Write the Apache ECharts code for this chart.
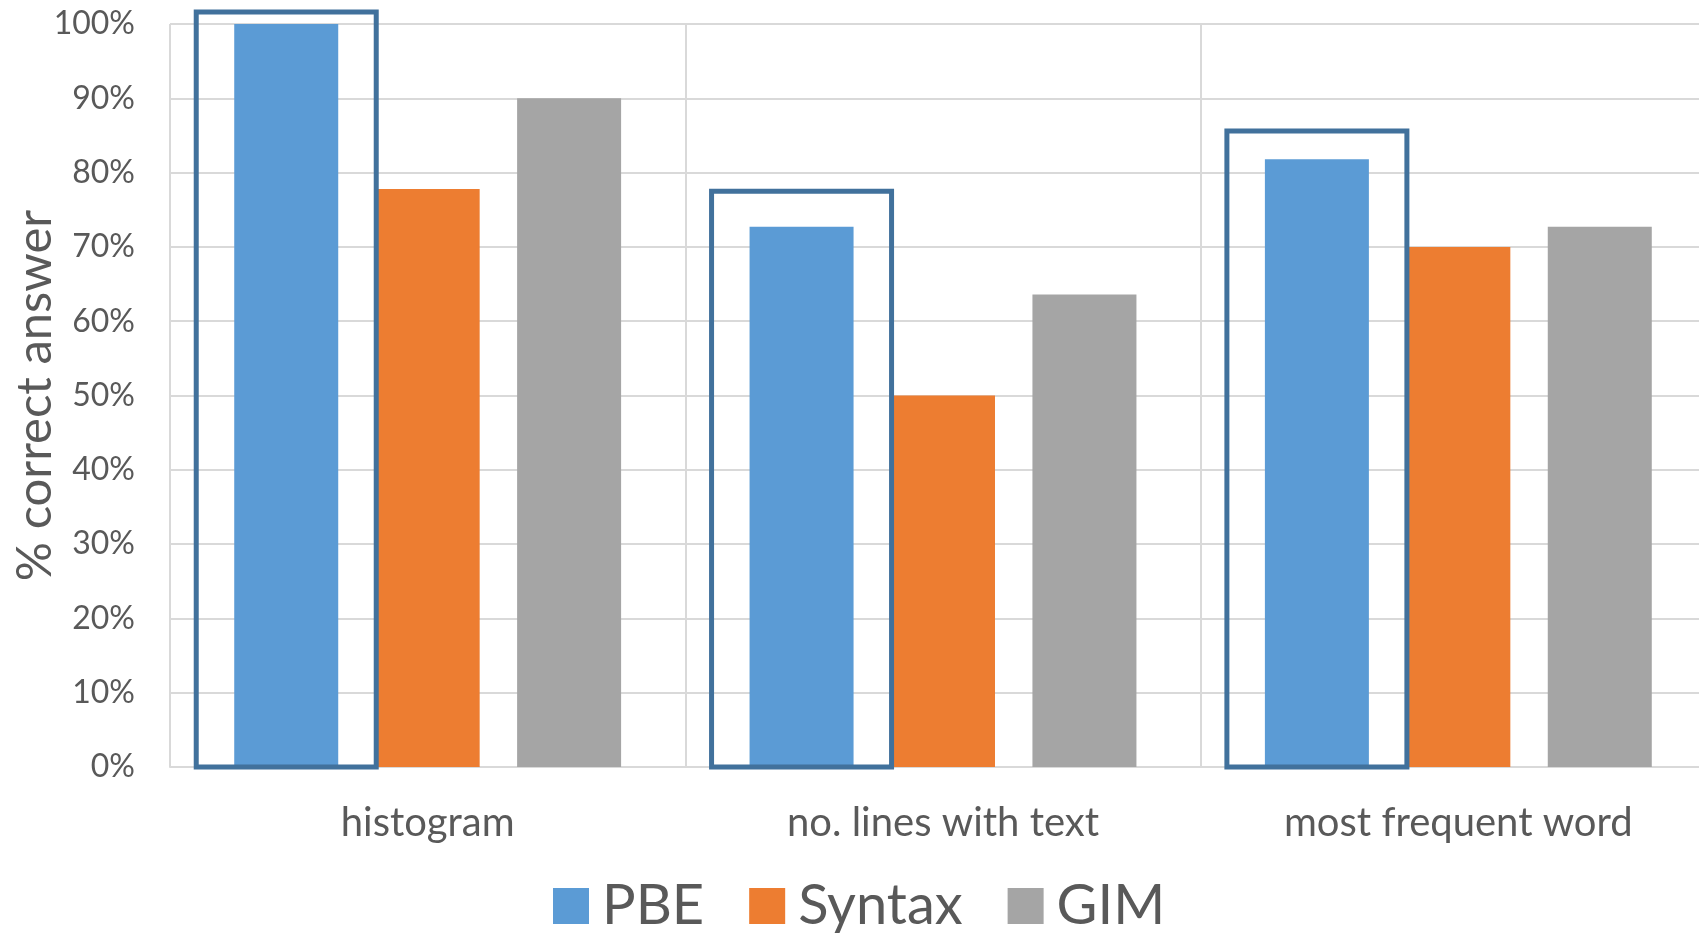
<!DOCTYPE html>
<html>
<head>
<meta charset="utf-8">
<script src="https://cdn.jsdelivr.net/npm/echarts@6/dist/echarts.min.js"></script>
<style>
html,body{margin:0;padding:0;background:#fff;}
#chart{width:1699px;height:933px;}
</style>
</head>
<body>
<div id="chart"></div>
<script>
const categories = ['histogram', 'no. lines with text', 'most frequent word'];
const seriesNames = ['PBE', 'Syntax', 'GIM'];
const pbeValues = [100, 72.7, 81.8];
const syntaxValues = [77.8, 50, 70];
const gimValues = [90, 63.6, 72.7];
const highlightTops = [101.6, 77.5, 85.6];

const FONT = 'Lato';
const TEXT = '#595959';
const GRID = '#D9D9D9';
const BAR_W = 104;
const BAR_GAP = 0.36;

const chart = echarts.init(document.getElementById('chart'));
chart.setOption({
  animation: false,
  backgroundColor: '#ffffff',
  grid: { left: 170, right: -17, top: 24, bottom: 166, containLabel: false, outerBoundsMode: 'none' },
  legend: {
    data: seriesNames,
    left: 548, top: 873,
    itemWidth: 36, itemHeight: 36, itemGap: 45,
    icon: 'rect',
    textStyle: { fontFamily: FONT, fontSize: 56, color: TEXT, padding: [0, 0, 0, 8] }
  },
  xAxis: {
    type: 'category',
    data: categories,
    axisLine: { show: true, lineStyle: { color: GRID, width: 2 } },
    axisTick: { show: false },
    splitLine: { show: true, lineStyle: { color: GRID, width: 2 } },
    axisLabel: { fontFamily: FONT, fontSize: 40, color: TEXT, margin: 36 }
  },
  yAxis: {
    type: 'value',
    min: 0, max: 100, interval: 10,
    name: '% correct answer',
    nameLocation: 'middle',
    nameGap: 110,
    nameMoveOverlap: false,
    nameTextStyle: { fontFamily: FONT, fontSize: 49, color: TEXT },
    axisLine: { show: false },
    axisTick: { show: false },
    splitLine: { lineStyle: { color: GRID, width: 2 } },
    axisLabel: { fontFamily: FONT, fontSize: 32, color: TEXT, margin: 35, formatter: '{value}%' }
  },
  series: [
    { name: 'PBE', type: 'bar', data: pbeValues, barWidth: BAR_W, barGap: (BAR_GAP * 100) + '%', itemStyle: { color: '#5B9BD5' } },
    { name: 'Syntax', type: 'bar', data: syntaxValues, barWidth: BAR_W, barGap: (BAR_GAP * 100) + '%', itemStyle: { color: '#ED7D31' } },
    { name: 'GIM', type: 'bar', data: gimValues, barWidth: BAR_W, barGap: (BAR_GAP * 100) + '%', itemStyle: { color: '#A5A5A5' } },
    {
      name: 'highlight', type: 'custom', z: 10, clip: false, silent: true,
      data: highlightTops.map((v, i) => [i, v]),
      renderItem: function (params, api) {
        const idx = api.value(0);
        const top = api.coord([idx, api.value(1)]);
        const base = api.coord([idx, 0]);
        const cx = top[0] - (BAR_W + BAR_W * BAR_GAP);
        const half = 90;
        return {
          type: 'rect',
          shape: { x: cx - half, y: top[1], width: half * 2, height: base[1] - top[1] },
          style: { fill: 'none', stroke: '#41719C', lineWidth: 5 }
        };
      }
    }
  ]
});
</script>
</body>
</html>
